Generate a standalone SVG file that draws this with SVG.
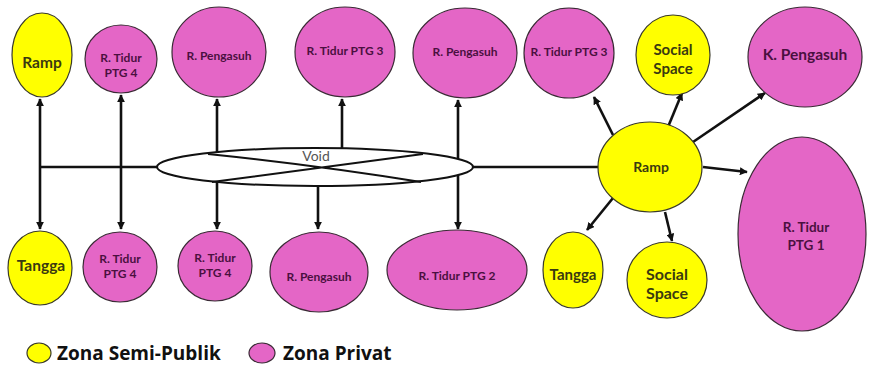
<svg xmlns="http://www.w3.org/2000/svg" width="869" height="370" viewBox="0 0 869 370">
<style>
.y{fill:#FFFF00;stroke:#3a3a2a;stroke-width:1.2}
.p{fill:#E466C6;stroke:#3a2a35;stroke-width:1.2}
.ty{font-family:Lato,"Open Sans",sans-serif;font-weight:bold;fill:#3a3a10;text-anchor:middle}
.tp{font-family:Lato,"Open Sans",sans-serif;font-weight:bold;fill:#4a1040;text-anchor:middle}
.s{font-size:12px}
.c line,.c path{stroke:#111;stroke-width:2.6;fill:none}
.leg{font-family:"Open Sans",sans-serif;font-weight:bold;font-size:19px;fill:#111}
</style>
<defs>
<marker id="ah" viewBox="0 0 10 10" refX="9" refY="5" markerWidth="8" markerHeight="8" markerUnits="userSpaceOnUse" orient="auto-start-reverse">
<path d="M0,0 L10,5 L0,10 z" fill="#111"/>
</marker>
</defs>
<rect width="869" height="370" fill="#fff"/>

<g class="c" id="connectors">
<line x1="40" y1="99" x2="40" y2="229" marker-start="url(#ah)" marker-end="url(#ah)"/>
<line x1="40" y1="167" x2="158" y2="167"/>
<line x1="121" y1="95" x2="121" y2="229" marker-start="url(#ah)" marker-end="url(#ah)"/>
<line x1="217" y1="99" x2="217" y2="153" marker-start="url(#ah)"/>
<line x1="217" y1="182" x2="217" y2="229" marker-end="url(#ah)"/>
<line x1="342" y1="150" x2="342" y2="99" marker-end="url(#ah)"/>
<line x1="318" y1="185" x2="318" y2="229" marker-end="url(#ah)"/>
<line x1="458" y1="100" x2="458" y2="229" marker-start="url(#ah)" marker-end="url(#ah)"/>
<line x1="472" y1="167" x2="599" y2="167"/>
<line x1="613" y1="135" x2="594" y2="97" marker-end="url(#ah)"/>
<line x1="668" y1="127" x2="682" y2="93" marker-end="url(#ah)"/>
<line x1="693" y1="142" x2="765" y2="93" marker-end="url(#ah)"/>
<line x1="703" y1="167" x2="747" y2="172" marker-end="url(#ah)"/>
<line x1="613" y1="198" x2="587" y2="230" marker-end="url(#ah)"/>
<line x1="665" y1="212" x2="672" y2="241" marker-end="url(#ah)"/>
</g>

<g id="void">
<ellipse cx="315" cy="167" rx="158" ry="19" fill="#fff" stroke="#111" stroke-width="2"/>
<path d="M208,154 Q315,165 421,182 M212,182 Q315,168 423,154" fill="none" stroke="#111" stroke-width="2"/>
<text x="316" y="161" font-family="Lato,'Open Sans',sans-serif" font-size="14" fill="#555" text-anchor="middle">Void</text>
</g>

<g id="ramp-top"><ellipse class="y" cx="42" cy="55" rx="30" ry="42"/><text class="ty" x="42" y="68" font-size="15.5">Ramp</text></g>
<g id="tidur-ptg4-top"><ellipse class="p" cx="121" cy="59" rx="36" ry="34"/><text class="tp s" x="121" y="62">R. Tidur</text><text class="tp s" x="121" y="77">PTG 4</text></g>
<g id="pengasuh-top1"><ellipse class="p" cx="219" cy="52" rx="47" ry="45"/><text class="tp s" x="219" y="60">R. Pengasuh</text></g>
<g id="tidur-ptg3-top1"><ellipse class="p" cx="345" cy="52" rx="50" ry="45"/><text class="tp s" x="345" y="55">R. Tidur PTG 3</text></g>
<g id="pengasuh-top2"><ellipse class="p" cx="465" cy="53" rx="52" ry="45"/><text class="tp s" x="465" y="56">R. Pengasuh</text></g>
<g id="tidur-ptg3-top2"><ellipse class="p" cx="569" cy="53" rx="45" ry="45"/><text class="tp s" x="569" y="56">R. Tidur PTG 3</text></g>
<g id="social-top"><ellipse class="y" cx="673" cy="55" rx="37" ry="40"/><text class="ty" x="673" y="55" font-size="15">Social</text><text class="ty" x="673" y="74" font-size="15">Space</text></g>
<g id="k-pengasuh"><ellipse class="p" cx="805" cy="57" rx="57" ry="50"/><text class="tp" x="805" y="60" font-size="15.5">K. Pengasuh</text></g>

<g id="ramp-center"><ellipse class="y" cx="650" cy="167" rx="52" ry="45"/><text class="ty" x="651" y="172" font-size="14">Ramp</text></g>
<g id="tidur-ptg1"><ellipse class="p" cx="802" cy="234" rx="64" ry="97"/><text class="tp" x="806" y="232" font-size="13.5">R. Tidur</text><text class="tp" x="806" y="250" font-size="13.5">PTG 1</text></g>

<g id="tangga-left"><ellipse class="y" cx="40" cy="268" rx="32" ry="37"/><text class="ty" x="41" y="271" font-size="15.5">Tangga</text></g>
<g id="tidur-ptg4-b1"><ellipse class="p" cx="120" cy="267" rx="37" ry="35"/><text class="tp s" x="120" y="263">R. Tidur</text><text class="tp s" x="120" y="278">PTG 4</text></g>
<g id="tidur-ptg4-b2"><ellipse class="p" cx="215" cy="266" rx="37" ry="35"/><text class="tp s" x="215" y="262">R. Tidur</text><text class="tp s" x="215" y="277">PTG 4</text></g>
<g id="pengasuh-bottom"><ellipse class="p" cx="319" cy="272" rx="49" ry="40"/><text class="tp s" x="319" y="281">R. Pengasuh</text></g>
<g id="tidur-ptg2"><ellipse class="p" cx="457" cy="270" rx="70" ry="40"/><text class="tp s" x="457" y="280">R. Tidur PTG 2</text></g>
<g id="tangga-right"><ellipse class="y" cx="573" cy="270" rx="30" ry="38"/><text class="ty" x="573" y="280" font-size="15">Tangga</text></g>
<g id="social-bottom"><ellipse class="y" cx="667" cy="280" rx="40" ry="38"/><text class="ty" x="667" y="280" font-size="16">Social</text><text class="ty" x="667" y="299" font-size="16">Space</text></g>

<g id="legend">
<ellipse class="y" cx="39" cy="353" rx="12" ry="10"/>
<text class="leg" x="57" y="360">Zona Semi-Publik</text>
<ellipse class="p" cx="262" cy="353" rx="13" ry="10"/>
<text class="leg" x="283" y="360">Zona Privat</text>
</g>
</svg>
